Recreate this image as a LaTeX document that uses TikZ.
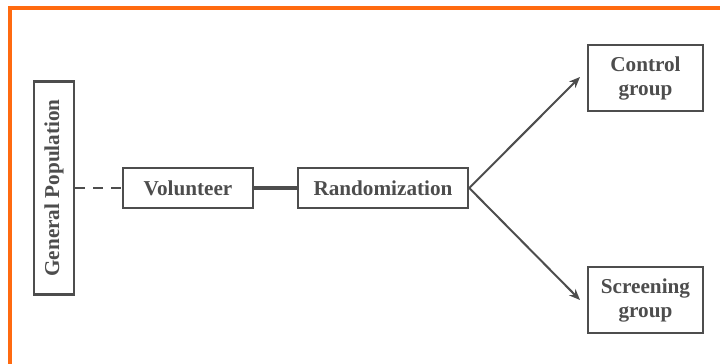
\documentclass[tikz,border=0pt]{standalone}
\usepackage{fontspec}
\setmainfont{Liberation Serif}
\usetikzlibrary{arrows.meta}
\definecolor{ink}{HTML}{4D4D4D}
\definecolor{frameorange}{HTML}{FF6A10}
\begin{document}
\begin{tikzpicture}[x=0.5pt,y=-0.5pt,
  box/.style={draw=ink, line width=1.25pt, fill=white, text=ink,
    font=\fontsize{10.6}{12}\selectfont\bfseries, inner sep=0pt, align=center},
  link/.style={draw=ink, line width=1pt},
  arrowlink/.style={link, -{Stealth[length=5.5pt,width=4.5pt]}}]
  % canvas and orange frame (top and left edges visible)
  \useasboundingbox (0,0) rectangle (720,364);
  \fill[white] (0,0) rectangle (720,364);
  \draw[frameorange, line width=2pt] (10,364) -- (10,8) -- (720,8);

  % nodes
  \node[box, minimum width=20pt, minimum height=106.5pt] (pop) at (54,188)
    {\rotatebox{90}{General Population}};
  \node[box, minimum width=65pt, minimum height=20pt] (vol) at (188,188) {Volunteer};
  \node[box, minimum width=85pt, minimum height=20pt] (rand) at (383,188) {Randomization};
  \node[box, minimum width=57.5pt, minimum height=33pt] (ctrl) at (645.5,78) {Control\\group};
  \node[box, minimum width=57.5pt, minimum height=33pt] (scr) at (645.5,300) {Screening\\group};

  % connectors
  \draw[link, line width=1.25pt, dash pattern=on 5pt off 4pt] (pop.east) -- (vol.west);
  \draw[link, line width=1.75pt] (vol.east) -- (rand.west);
  \coordinate (ctip) at (580,77);
  \coordinate (stip) at (580,300);
  \draw[arrowlink] (rand.east) -- (ctip);
  \draw[arrowlink] (rand.east) -- (stip);
\end{tikzpicture}
\end{document}
